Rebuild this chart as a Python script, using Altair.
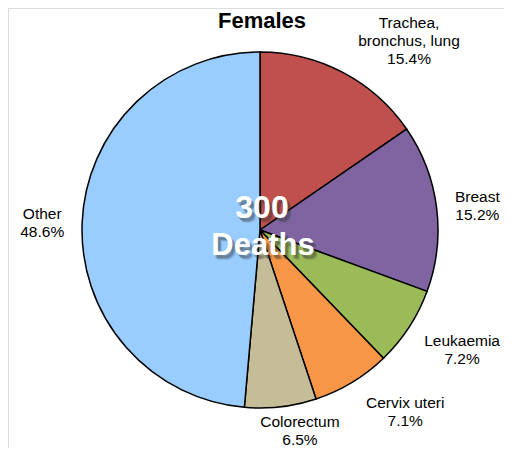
import altair as alt
import pandas as pd

categories = ["Trachea, bronchus, lung", "Breast", "Leukaemia", "Cervix uteri", "Colorectum", "Other"]
label_lines = ["Trachea,\nbronchus, lung", "Breast", "Leukaemia", "Cervix uteri", "Colorectum", "Other"]
percents = [15.4, 15.2, 7.2, 7.1, 6.5, 48.6]
colors = ["#C0504D", "#8064A2", "#9BBB59", "#F79646", "#C4BD97", "#99CCFF"]
total_deaths = 300
title_text = "Females"

# label layout (style): radius and pixel nudges per label
label_radius = 215
label_nudge = [(49, 1), (4, 3), (22, 3), (34, -2), (15, -13), (-3, 2)]
LINE_H = 18

df = pd.DataFrame({
    "category": categories,
    "value": percents,
    "order": list(range(len(categories))),
    "label": [f"{l}\n{p}%" for l, p in zip(label_lines, percents)],
})

CX, CY = 252, 222
W, H = 496, 440

theta_scale = alt.Scale(domain=[0, 100])
base = alt.Chart(df)

pie = base.mark_arc(radius=178, stroke="black", strokeWidth=1.5).encode(
    theta=alt.Theta("value:Q", stack=True, scale=theta_scale),
    color=alt.Color("category:N", scale=alt.Scale(domain=categories, range=colors), legend=None),
    order=alt.Order("order:Q"),
    x=alt.value(CX),
    y=alt.value(CY),
)

layers = [pie]
for cat, lab, (dx, dy) in zip(categories, df["label"], label_nudge):
    n_lines = lab.count("\n") + 1
    t = base.transform_window(
        cum="sum(value)", sort=[alt.SortField("order")]
    ).transform_calculate(
        mid="datum.cum - datum.value / 2"
    ).transform_filter(
        alt.datum.category == cat
    ).mark_text(
        radius=label_radius, dx=dx, dy=dy - (n_lines - 1) * LINE_H / 2,
        font="Liberation Sans", fontSize=15.5,
        lineBreak="\n", lineHeight=LINE_H, align="center", baseline="middle", color="black"
    ).encode(
        theta=alt.Theta("mid:Q", stack=None, scale=theta_scale),
        text="label:N",
        x=alt.value(CX),
        y=alt.value(CY),
    )
    layers.append(t)

center_df = pd.DataFrame({"line": [str(total_deaths), "Deaths"], "row": [0, 1]})
cbase = alt.Chart(center_df)

def center_text(color, ox, oy, opacity):
    out = []
    for row, yy in [(0, 208), (1, 246)]:
        out.append(
            cbase.transform_filter(alt.datum.row == row).mark_text(
                font="Liberation Sans", fontWeight="bold", fontSize=32 if row == 0 else 31,
                align="center", baseline="middle", color=color, opacity=opacity,
                dx=ox, dy=oy,
            ).encode(text="line:N", x=alt.value(262 - 8 + (1 if row else 0)), y=alt.value(yy - 8))
        )
    return out

for ox, oy, op in [(2, 3, 0.18), (3, 4, 0.18), (4, 5, 0.14), (3, 3, 0.12)]:
    layers += center_text("#333333", ox, oy, op)
layers += center_text("white", 0, 0, 1)

title = alt.Chart(pd.DataFrame({"t": [title_text]})).mark_text(
    font="Liberation Sans", fontWeight="bold", fontSize=22, align="center", baseline="middle", color="black"
).encode(text="t:N", x=alt.value(262 - 8), y=alt.value(21 - 8))
layers.append(title)

chart = alt.layer(*layers).properties(
    width=W, height=H, autosize=alt.AutoSizeParams(type="none"), padding=0
).configure_view(stroke="transparent", strokeWidth=0).configure(background="white")

chart.save("out.html", embed_options={"renderer": "svg", "actions": False})
